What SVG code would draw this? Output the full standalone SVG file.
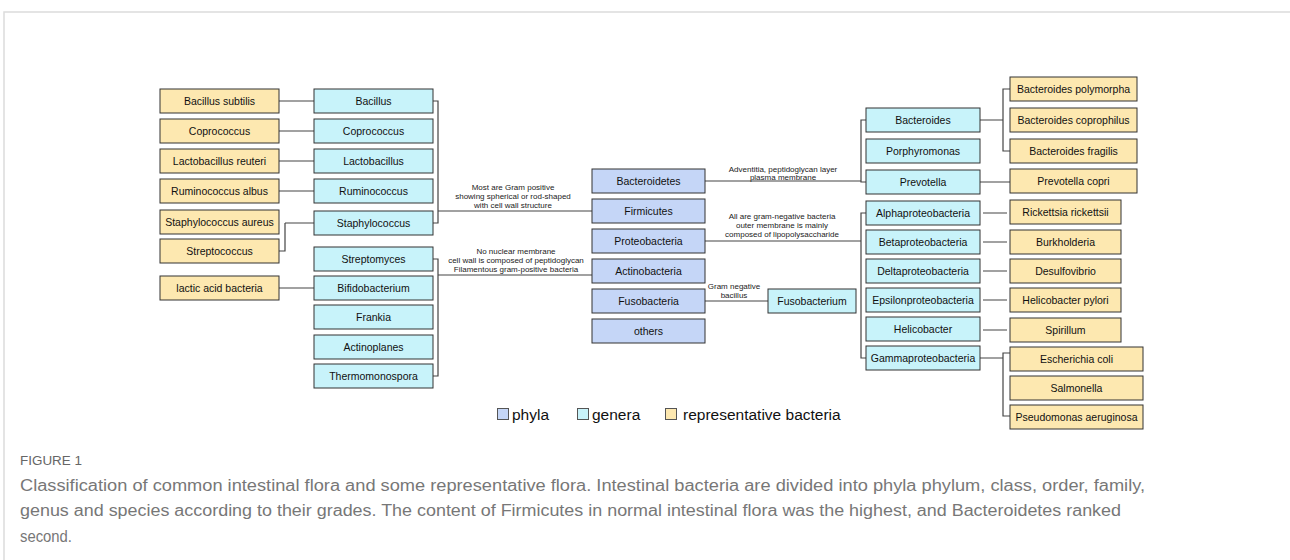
<svg xmlns="http://www.w3.org/2000/svg" width="1290" height="560" viewBox="0 0 1290 560">
<style>
.box{stroke:#333;stroke-width:1}
.y{fill:#fde8b0}
.c{fill:#c8f3fa}
.p{fill:#c5d6f7}
.t{font-family:"Liberation Sans",Arial,sans-serif;font-size:10.5px;fill:#111;text-anchor:middle;dominant-baseline:central}
.a{font-family:"Liberation Sans",Arial,sans-serif;font-size:8px;fill:#222;text-anchor:middle}
.ln{fill:none;stroke:#444;stroke-width:1.2}
.lg{font-family:"Liberation Sans",Arial,sans-serif;font-size:15.5px;fill:#111}
.cap{font-family:"Liberation Sans",Arial,sans-serif;font-size:16px;fill:#777}
</style>
<rect width="1290" height="560" fill="#fff"/>
<path d="M4,560 V12 H1290" fill="none" stroke="#dcdcdc" stroke-width="1.5"/>

<g id="connectors">
<path class="ln" d="M279,101 H314 M279,131 H314 M279,161 H314 M279,191 H314 M285,223 H314 M285,223 V251 H279 M279,288 H314"/>
<path class="ln" d="M433,101 H438 V223 H433 M438,211 H592"/>
<path class="ln" d="M433,259 H438 V376 H433 M438,275 H592"/>
<path class="ln" d="M705,181 H861 M866,120 H861 V182 H866"/>
<path class="ln" d="M980,120 H1003 M1010,89 H1003 V151 H1010 M980,182 H1010"/>
<path class="ln" d="M705,241 H861 M866,213 H861 V358 H866"/>
<path class="ln" d="M983,213 H1007 M983,242 H1007 M983,271 H1007 M983,300 H1007 M983,330 H1007"/>
<path class="ln" d="M980,358 H1003 M1010,353 H1003 V416 H1010"/>
<path class="ln" d="M705,301 H768"/>
</g>

<g id="labels">
<text class="a" x="513" y="190">Most are Gram positive</text>
<text class="a" x="513" y="199">showing spherical or rod-shaped</text>
<text class="a" x="513" y="208">with cell wall structure</text>
<text class="a" x="516" y="254">No nuclear membrane</text>
<text class="a" x="516" y="263">cell wall is composed of peptidoglycan</text>
<text class="a" x="516" y="272">Filamentous gram-positive bacteria</text>
<text class="a" x="783" y="172">Adventitia, peptidoglycan layer</text>
<text class="a" x="783" y="180">plasma membrane</text>
<text class="a" x="782" y="219">All are gram-negative bacteria</text>
<text class="a" x="782" y="228">outer membrane is mainly</text>
<text class="a" x="782" y="237">composed of lipopolysaccharide</text>
<text class="a" x="734" y="289">Gram negative</text>
<text class="a" x="734" y="298">bacillus</text>
</g>

<g id="rep-bacillus-subtilis"><rect class="box y" x="160" y="89" width="119" height="24"/><text class="t" x="219.5" y="101">Bacillus subtilis</text></g>
<g id="rep-coprococcus"><rect class="box y" x="160" y="119" width="119" height="24"/><text class="t" x="219.5" y="131">Coprococcus</text></g>
<g id="rep-lactobacillus-reuteri"><rect class="box y" x="160" y="149" width="119" height="24"/><text class="t" x="219.5" y="161">Lactobacillus reuteri</text></g>
<g id="rep-ruminococcus-albus"><rect class="box y" x="160" y="179" width="119" height="24"/><text class="t" x="219.5" y="191">Ruminococcus albus</text></g>
<g id="rep-staphylococcus-aureus"><rect class="box y" x="160" y="210" width="119" height="24"/><text class="t" x="219.5" y="222">Staphylococcus aureus</text></g>
<g id="rep-streptococcus"><rect class="box y" x="160" y="239" width="119" height="24"/><text class="t" x="219.5" y="251">Streptococcus</text></g>
<g id="rep-lactic-acid-bacteria"><rect class="box y" x="160" y="276" width="119" height="24"/><text class="t" x="219.5" y="288">lactic acid bacteria</text></g>

<g id="gen-bacillus"><rect class="box c" x="314" y="89" width="119" height="24"/><text class="t" x="373.5" y="101">Bacillus</text></g>
<g id="gen-coprococcus"><rect class="box c" x="314" y="119" width="119" height="24"/><text class="t" x="373.5" y="131">Coprococcus</text></g>
<g id="gen-lactobacillus"><rect class="box c" x="314" y="149" width="119" height="24"/><text class="t" x="373.5" y="161">Lactobacillus</text></g>
<g id="gen-ruminococcus"><rect class="box c" x="314" y="179" width="119" height="24"/><text class="t" x="373.5" y="191">Ruminococcus</text></g>
<g id="gen-staphylococcus"><rect class="box c" x="314" y="211" width="119" height="24"/><text class="t" x="373.5" y="223">Staphylococcus</text></g>
<g id="gen-streptomyces"><rect class="box c" x="314" y="247" width="119" height="24"/><text class="t" x="373.5" y="259">Streptomyces</text></g>
<g id="gen-bifidobacterium"><rect class="box c" x="314" y="276" width="119" height="24"/><text class="t" x="373.5" y="288">Bifidobacterium</text></g>
<g id="gen-frankia"><rect class="box c" x="314" y="305" width="119" height="24"/><text class="t" x="373.5" y="317">Frankia</text></g>
<g id="gen-actinoplanes"><rect class="box c" x="314" y="335" width="119" height="24"/><text class="t" x="373.5" y="347">Actinoplanes</text></g>
<g id="gen-thermomonospora"><rect class="box c" x="314" y="364" width="119" height="24"/><text class="t" x="373.5" y="376">Thermomonospora</text></g>

<g id="phy-bacteroidetes"><rect class="box p" x="592" y="169" width="113" height="24"/><text class="t" x="648.5" y="181">Bacteroidetes</text></g>
<g id="phy-firmicutes"><rect class="box p" x="592" y="199" width="113" height="24"/><text class="t" x="648.5" y="211">Firmicutes</text></g>
<g id="phy-proteobacteria"><rect class="box p" x="592" y="229" width="113" height="24"/><text class="t" x="648.5" y="241">Proteobacteria</text></g>
<g id="phy-actinobacteria"><rect class="box p" x="592" y="259" width="113" height="24"/><text class="t" x="648.5" y="271">Actinobacteria</text></g>
<g id="phy-fusobacteria"><rect class="box p" x="592" y="289" width="113" height="24"/><text class="t" x="648.5" y="301">Fusobacteria</text></g>
<g id="phy-others"><rect class="box p" x="592" y="319" width="113" height="24"/><text class="t" x="648.5" y="331">others</text></g>

<g id="gen-fusobacterium"><rect class="box c" x="768" y="289" width="88" height="24"/><text class="t" x="812" y="301">Fusobacterium</text></g>

<g id="gen-bacteroides"><rect class="box c" x="866" y="108" width="114" height="24"/><text class="t" x="923" y="120">Bacteroides</text></g>
<g id="gen-porphyromonas"><rect class="box c" x="866" y="139" width="114" height="24"/><text class="t" x="923" y="151">Porphyromonas</text></g>
<g id="gen-prevotella"><rect class="box c" x="866" y="170" width="114" height="24"/><text class="t" x="923" y="182">Prevotella</text></g>
<g id="gen-alphaproteobacteria"><rect class="box c" x="866" y="201" width="114" height="24"/><text class="t" x="923" y="213">Alphaproteobacteria</text></g>
<g id="gen-betaproteobacteria"><rect class="box c" x="866" y="230" width="114" height="24"/><text class="t" x="923" y="242">Betaproteobacteria</text></g>
<g id="gen-deltaproteobacteria"><rect class="box c" x="866" y="259" width="114" height="24"/><text class="t" x="923" y="271">Deltaproteobacteria</text></g>
<g id="gen-epsilonproteobacteria"><rect class="box c" x="866" y="288" width="114" height="24"/><text class="t" x="923" y="300">Epsilonproteobacteria</text></g>
<g id="gen-helicobacter"><rect class="box c" x="866" y="317" width="114" height="24"/><text class="t" x="923" y="329">Helicobacter</text></g>
<g id="gen-gammaproteobacteria"><rect class="box c" x="866" y="346" width="114" height="24"/><text class="t" x="923" y="358">Gammaproteobacteria</text></g>

<g id="rep-bacteroides-polymorpha"><rect class="box y" x="1010" y="77" width="127" height="24"/><text class="t" x="1073.5" y="89">Bacteroides polymorpha</text></g>
<g id="rep-bacteroides-coprophilus"><rect class="box y" x="1010" y="108" width="127" height="24"/><text class="t" x="1073.5" y="120">Bacteroides coprophilus</text></g>
<g id="rep-bacteroides-fragilis"><rect class="box y" x="1010" y="139" width="127" height="24"/><text class="t" x="1073.5" y="151">Bacteroides fragilis</text></g>
<g id="rep-prevotella-copri"><rect class="box y" x="1010" y="169" width="127" height="24"/><text class="t" x="1073.5" y="181">Prevotella copri</text></g>
<g id="rep-rickettsia"><rect class="box y" x="1010" y="200" width="111" height="24"/><text class="t" x="1065.5" y="212">Rickettsia rickettsii</text></g>
<g id="rep-burkholderia"><rect class="box y" x="1010" y="230" width="111" height="24"/><text class="t" x="1065.5" y="242">Burkholderia</text></g>
<g id="rep-desulfovibrio"><rect class="box y" x="1010" y="259" width="111" height="24"/><text class="t" x="1065.5" y="271">Desulfovibrio</text></g>
<g id="rep-helicobacter-pylori"><rect class="box y" x="1010" y="288" width="111" height="24"/><text class="t" x="1065.5" y="300">Helicobacter pylori</text></g>
<g id="rep-spirillum"><rect class="box y" x="1010" y="318" width="111" height="24"/><text class="t" x="1065.5" y="330">Spirillum</text></g>
<g id="rep-escherichia-coli"><rect class="box y" x="1010" y="347" width="133" height="24"/><text class="t" x="1076.5" y="359">Escherichia coli</text></g>
<g id="rep-salmonella"><rect class="box y" x="1010" y="376" width="133" height="24"/><text class="t" x="1076.5" y="388">Salmonella</text></g>
<g id="rep-pseudomonas"><rect class="box y" x="1010" y="405" width="133" height="24"/><text class="t" x="1076.5" y="417">Pseudomonas aeruginosa</text></g>

<g id="legend">
<rect class="p" x="497.5" y="408.5" width="11" height="11" stroke="#555" stroke-width="1"/>
<text class="lg" x="512" y="420">phyla</text>
<rect class="c" x="577.5" y="408.5" width="11" height="11" stroke="#555" stroke-width="1"/>
<text class="lg" x="592" y="420">genera</text>
<rect class="y" x="665.5" y="408.5" width="11" height="11" stroke="#555" stroke-width="1"/>
<text class="lg" x="683" y="420">representative bacteria</text>
</g>

<g id="caption">
<text x="20" y="465" font-family="Liberation Sans, Arial, sans-serif" font-size="12" fill="#666" textLength="62" lengthAdjust="spacingAndGlyphs">FIGURE 1</text>
<text class="cap" x="20" y="491" textLength="1125" lengthAdjust="spacingAndGlyphs">Classification of common intestinal flora and some representative flora. Intestinal bacteria are divided into phyla phylum, class, order, family,</text>
<text class="cap" x="20" y="516" textLength="1101" lengthAdjust="spacingAndGlyphs">genus and species according to their grades. The content of Firmicutes in normal intestinal flora was the highest, and Bacteroidetes ranked</text>
<text class="cap" x="20" y="542" textLength="52" lengthAdjust="spacingAndGlyphs">second.</text>
</g>
</svg>
